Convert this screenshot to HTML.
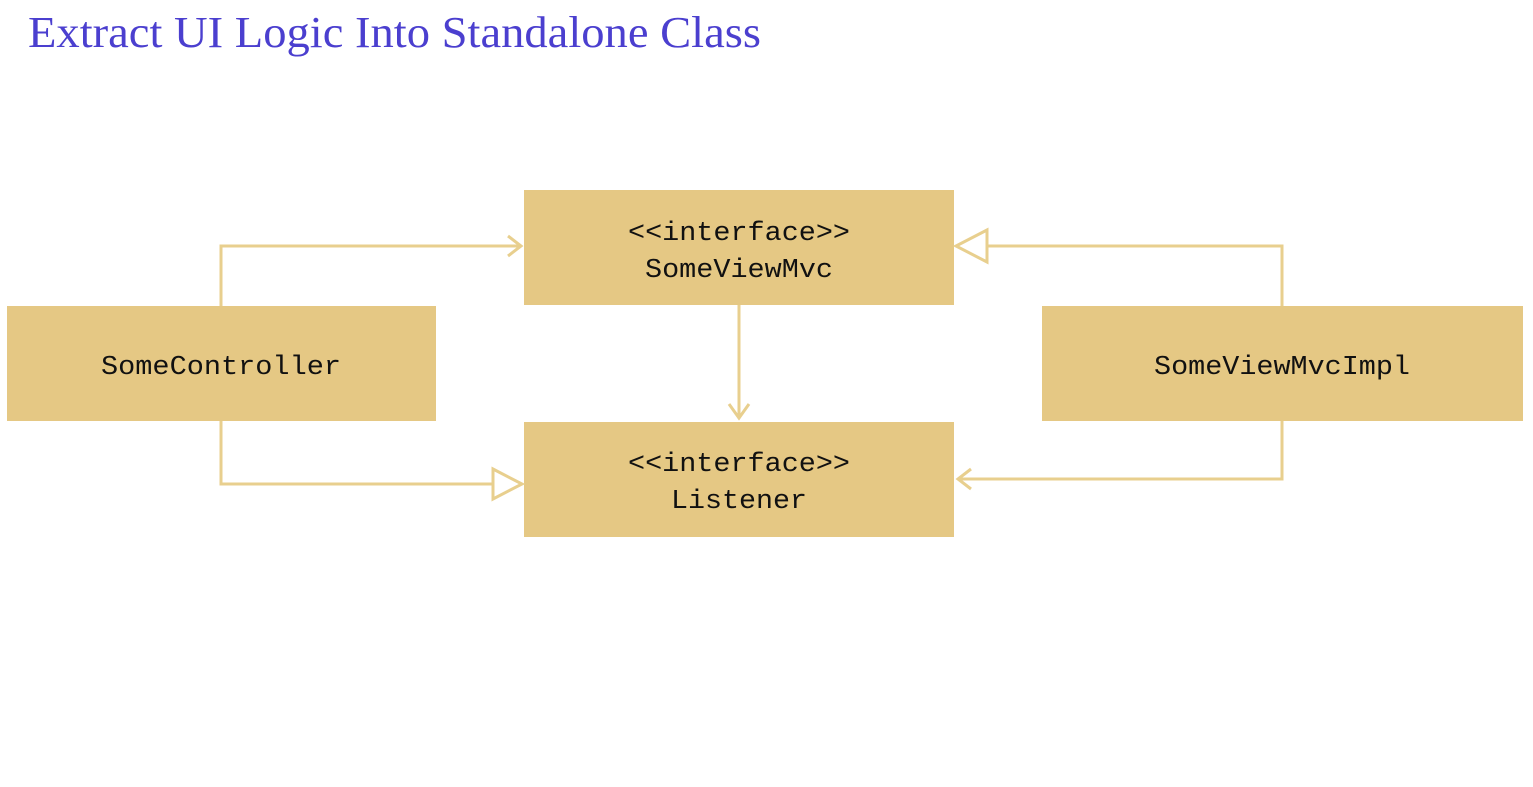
<!DOCTYPE html>
<html><head><meta charset="utf-8"><style>
html,body{margin:0;padding:0;background:#fff;width:1533px;height:787px;overflow:hidden}
</style></head><body>
<svg width="1533" height="787" xmlns="http://www.w3.org/2000/svg">
<text x="28" y="47" font-family="Liberation Serif, serif" font-size="44" fill="#4b3fcf" textLength="733" lengthAdjust="spacingAndGlyphs">Extract UI Logic Into Standalone Class</text>
<g fill="#e5c884">
<rect x="524" y="190" width="430" height="115"/>
<rect x="524" y="422" width="430" height="115"/>
<rect x="7" y="306" width="429" height="115"/>
<rect x="1042" y="306" width="481" height="115"/>
</g>
<g stroke="#e8cf8e" stroke-width="3" fill="none">
<polyline points="221,306 221,246 521,246"/>
<polyline points="508,236 521,246 508,256"/>
<polyline points="221,421 221,484 493,484"/>
<polygon points="493,469 522,484 493,499"/>
<polyline points="739,305 739,418"/>
<polyline points="729,404 739,418 749,404"/>
<polyline points="1282,306 1282,246 987,246"/>
<polygon points="987,230 956,246 987,262"/>
<polyline points="1282,421 1282,479 958,479"/>
<polyline points="971,469 958,479 971,489"/>
</g>
<g font-family="Liberation Mono, monospace" font-size="27" fill="#111" text-anchor="middle">
<text x="739" y="240" textLength="222" lengthAdjust="spacingAndGlyphs">&lt;&lt;interface&gt;&gt;</text>
<text x="739" y="277" textLength="188" lengthAdjust="spacingAndGlyphs">SomeViewMvc</text>
<text x="739" y="471" textLength="222" lengthAdjust="spacingAndGlyphs">&lt;&lt;interface&gt;&gt;</text>
<text x="739" y="508" textLength="136" lengthAdjust="spacingAndGlyphs">Listener</text>
<text x="221" y="374" textLength="240" lengthAdjust="spacingAndGlyphs">SomeController</text>
<text x="1282" y="374" textLength="256" lengthAdjust="spacingAndGlyphs">SomeViewMvcImpl</text>
</g>
</svg>
</body></html>
